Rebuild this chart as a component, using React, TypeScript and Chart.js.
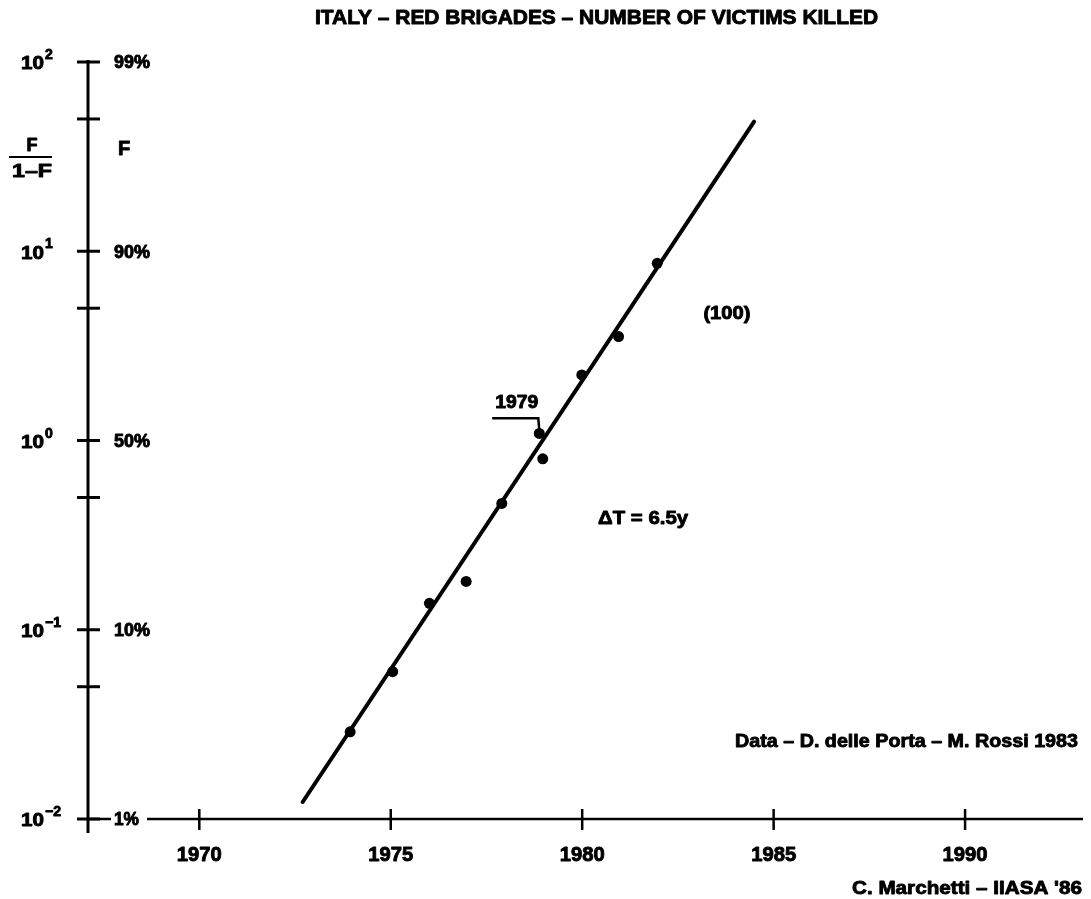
import React, { useEffect, useRef } from "react";
import { Chart, registerables } from "chart.js";

Chart.register(...registerables);

// ---- data ----
const titleText = "ITALY – RED BRIGADES – NUMBER OF VICTIMS KILLED";
const dataNote = "Data – D. delle Porta – M. Rossi 1983";
const creditNote = "C. Marchetti – IIASA '86";

// observed points: year, F/(1-F)
const pointYears = [1973.94, 1975.05, 1976.01, 1976.97, 1977.9, 1978.88, 1978.97, 1979.99, 1980.95, 1981.96];
const pointRatios = [0.0289, 0.06, 0.138, 0.18, 0.465, 1.09, 0.8, 2.22, 3.54, 8.63];

// fitted logistic line end points
const fitYears = [1972.7, 1984.49];
const fitRatios = [0.0123, 48.4];

// axes
const xTickYears = [1970, 1975, 1980, 1985, 1990];
const yMajorValues = [0.01, 0.1, 1, 10, 100];
const yExponentLabels = ["−2", "−1", "0", "1", "2"];
const yPercentLabels = ["1%", "10%", "50%", "90%", "99%"];
const yMinorValues = [0.05, 0.5, 5, 50];

// annotations (data coordinates)
const saturationLabel = "(100)";
const saturationAt = [1983.78, 4.72];
const deltaLabel = "ΔT = 6.5y";
const deltaAt = [1981.59, 0.395];
const yearLabel = "1979";
const yearLabelAt = [1978.29, 1.6];
const bracketStartYear = 1977.65;
const bracketRatio = 1.31;
const bracketPointIndex = 5;

const FONT = '"Liberation Sans", Arial, "DejaVu Sans", sans-serif';

function drawText(
  ctx: CanvasRenderingContext2D,
  s: string,
  x: number,
  cy: number,
  size: number,
  align: "left" | "center" | "right",
  width?: number
) {
  ctx.save();
  ctx.font = `bold ${size}px ${FONT}`;
  const m = ctx.measureText(s).width;
  const w = width ?? m;
  const sx = w / m;
  const left = align === "left" ? x : align === "center" ? x - w / 2 : x - w;
  ctx.translate(left, cy + size * 0.36);
  ctx.scale(sx, 1);
  ctx.textAlign = "left";
  ctx.textBaseline = "alphabetic";
  ctx.fillStyle = "#000";
  ctx.strokeStyle = "#000";
  ctx.lineWidth = 0.9;
  ctx.lineJoin = "round";
  ctx.fillText(s, 0, 0);
  ctx.strokeText(s, 0, 0);
  ctx.restore();
}

const decorPlugin = {
  id: "decor",
  beforeDatasetsDraw(chart: any) {
    const ctx: CanvasRenderingContext2D = chart.ctx;
    const xs = chart.scales.x;
    const ys = chart.scales.y;
    const area = chart.chartArea;
    ctx.save();
    ctx.strokeStyle = "#000";
    ctx.lineCap = "butt";

    // y axis
    const ax = area.left;
    ctx.lineWidth = 3;
    ctx.beginPath();
    ctx.moveTo(ax, area.top - 2);
    ctx.lineTo(ax, area.bottom + 14);
    ctx.stroke();

    // x axis
    ctx.lineWidth = 2.5;
    ctx.beginPath();
    ctx.moveTo(ax, area.bottom);
    ctx.lineTo(area.right, area.bottom);
    ctx.stroke();

    // y ticks (cross the axis)
    ctx.lineWidth = 3;
    [...yMajorValues, ...yMinorValues].forEach((v) => {
      const py = ys.getPixelForValue(v);
      ctx.beginPath();
      ctx.moveTo(ax - 11, py);
      ctx.lineTo(ax + 12, py);
      ctx.stroke();
    });

    // x ticks
    ctx.lineWidth = 2.5;
    xTickYears.forEach((yr) => {
      const px = xs.getPixelForValue(yr);
      ctx.beginPath();
      ctx.moveTo(px, area.bottom - 10);
      ctx.lineTo(px, area.bottom + 11);
      ctx.stroke();
      drawText(ctx, String(yr), px, area.bottom + 34.5, 20, "center", 45);
    });

    // y labels
    yMajorValues.forEach((v, i) => {
      const py = ys.getPixelForValue(v);
      drawText(ctx, "10", 21, py + 1, 18, "left", 23);
      drawText(ctx, yExponentLabels[i], 45, py - 8, 14, "left");
      const pl = yPercentLabels[i];
      if (i === 0) {
        ctx.fillStyle = "#fff";
        ctx.fillRect(ax + 23, py - 3, 36, 6);
      }
      drawText(ctx, pl, ax + 26, py, 18, "left", i === 0 ? 25 : 36);
    });

    // axis titles
    drawText(ctx, "F", 32, 145, 18, "center");
    ctx.lineWidth = 2;
    ctx.beginPath();
    ctx.moveTo(9, 157);
    ctx.lineTo(52, 157);
    ctx.stroke();
    drawText(ctx, "1–F", 32, 171, 18, "center", 40);
    drawText(ctx, "F", 118, 148, 20, "left");

    // title and notes
    drawText(ctx, titleText, 315, 17, 20, "left", 563);
    drawText(ctx, dataNote, area.right - 5, 740, 19, "right", 343);
    drawText(ctx, creditNote, area.right - 1, 887, 19, "right", 230);

    // annotations
    drawText(ctx, saturationLabel, xs.getPixelForValue(saturationAt[0]), ys.getPixelForValue(saturationAt[1]), 18, "center", 47);
    drawText(ctx, deltaLabel, xs.getPixelForValue(deltaAt[0]), ys.getPixelForValue(deltaAt[1]), 19, "center", 90);
    drawText(ctx, yearLabel, xs.getPixelForValue(yearLabelAt[0]), ys.getPixelForValue(yearLabelAt[1]), 18, "center", 43);

    // bracket to the 1979 point
    const bx0 = xs.getPixelForValue(bracketStartYear);
    const by = ys.getPixelForValue(bracketRatio);
    const px = xs.getPixelForValue(pointYears[bracketPointIndex]);
    const py = ys.getPixelForValue(pointRatios[bracketPointIndex]);
    ctx.lineWidth = 2.5;
    ctx.beginPath();
    ctx.moveTo(bx0, by);
    ctx.lineTo(px - 1, by);
    ctx.lineTo(px, py - 3);
    ctx.stroke();

    ctx.restore();
  },
};

export default function App() {
  const ref = useRef<HTMLCanvasElement>(null);
  useEffect(() => {
    const canvas = ref.current;
    if (!canvas) return;
    const chart = new Chart(canvas, {
      type: "scatter",
      data: {
        datasets: [
          {
            label: "victims",
            data: pointYears.map((x, i) => ({ x, y: pointRatios[i] })),
            backgroundColor: "#000",
            borderColor: "#000",
            pointRadius: 5.5,
            pointBorderWidth: 0,
          },
          {
            label: "fit",
            data: fitYears.map((x, i) => ({ x, y: fitRatios[i] })),
            showLine: true,
            borderColor: "#000",
            borderWidth: 4,
            pointRadius: 0,
            borderCapStyle: "round",
          } as any,
        ],
      },
      options: {
        animation: false,
        responsive: false,
        devicePixelRatio: 1,
        layout: { padding: { left: 88, right: 8, top: 62, bottom: 80 } },
        plugins: { legend: { display: false }, tooltip: { enabled: false }, title: { display: false } },
        scales: {
          x: { type: "linear", min: 1967.093, max: 1993.08, display: false },
          y: { type: "logarithmic", min: 0.01, max: 100, display: false },
        },
      },
      plugins: [decorPlugin],
    });
    return () => chart.destroy();
  }, []);
  return (
    <div style={{ position: "absolute", left: 0, top: 0, width: 1091, height: 899, background: "#fff" }}>
      <canvas ref={ref} width={1091} height={899} style={{ display: "block", width: 1091, height: 899 }} />
    </div>
  );
}
